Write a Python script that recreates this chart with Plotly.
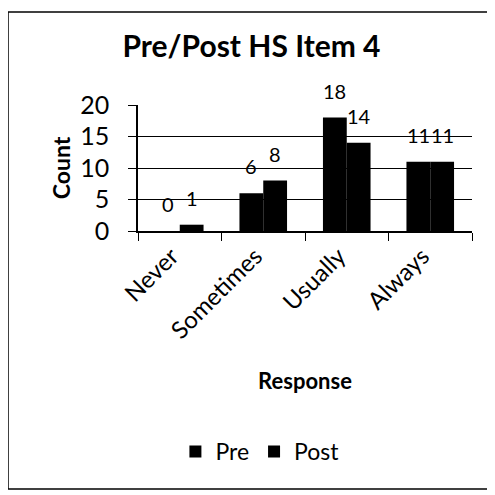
import plotly.graph_objects as go

categories = ["Never", "Sometimes", "Usually", "Always"]
pre = [0, 6, 18, 11]
post = [1, 8, 14, 11]
y_ticks = [0, 5, 10, 15, 20]

FONT = "Lato"
BARGAP = 0.43
series = [("Pre", pre), ("Post", post)]

fig = go.Figure()
for name, vals in series:
    fig.add_trace(go.Bar(
        x=categories, y=vals, name=name,
        marker=dict(color="#000000", line=dict(width=0)),
    ))

# data labels (outside end), placed over each bar of the group
half = (1 - BARGAP) / 2
for i, (name, vals) in enumerate(series):
    off = (i - 0.5) * half
    for j, v in enumerate(vals):
        fig.add_annotation(x=j + off, y=v, xref="x", yref="y", text=str(v),
                           showarrow=False, yanchor="bottom", yshift=13,
                           font=dict(family=FONT, size=20, color="#000"))

# page body has an 8px margin, so the figure is 487px and shifted accordingly
fig.update_layout(
    width=487, height=487,
    paper_bgcolor="white", plot_bgcolor="white",
    margin=dict(l=130, r=23, t=97, b=264),
    barmode="group", bargap=BARGAP, bargroupgap=0,
    title=dict(text="<b>Pre/Post HS Item 4</b>", x=0.5, xanchor="center",
               y=0.92, yanchor="middle",
               font=dict(family=FONT, size=30, color="#000")),
    font=dict(family=FONT, size=24, color="#000"),
    showlegend=True,
    legend=dict(orientation="h", x=0.365, xanchor="center", y=-1.75, yanchor="middle",
                font=dict(family=FONT, size=23, color="#000"),
                itemwidth=30, traceorder="normal"),
)
fig.update_yaxes(range=[0, 20], tickvals=y_ticks, showgrid=True, gridcolor="#000",
                 gridwidth=1.2, showline=True, linecolor="#000", linewidth=1.5,
                 ticks="outside", ticklen=8, tickcolor="#000", zeroline=False,
                 ticklabelstandoff=14,
                 title=dict(text="<b>Count</b>", font=dict(family=FONT, size=23), standoff=3),
                 tickfont=dict(family=FONT, size=25))
fig.update_xaxes(showline=True, linecolor="#000", linewidth=1.5, ticks="outside",
                 tickson="boundaries", ticklen=8, tickcolor="#000", tickangle=-45,
                 ticklabelshift=-8,
                 range=[-0.5, 3.5],
                 tickfont=dict(family=FONT, size=24),
                 title=dict(text="<b>Response</b>", font=dict(family=FONT, size=22), standoff=31))
# chart frame: left, top and bottom edges (right edge falls outside the picture)
fx0, fx1 = -130 / 334, 1.2
fy0, fy1 = (223 - 481) / 126, (223 - 4) / 126
for (a, b, c, d) in [(fx0, fy0, fx0, fy1), (fx0, fy1, fx1, fy1), (fx0, fy0, fx1, fy0)]:
    fig.add_shape(type="line", xref="paper", yref="paper", x0=a, y0=b, x1=c, y1=d,
                  line=dict(color="#000", width=1.5), layer="below")
fig.write_html("out.html")
